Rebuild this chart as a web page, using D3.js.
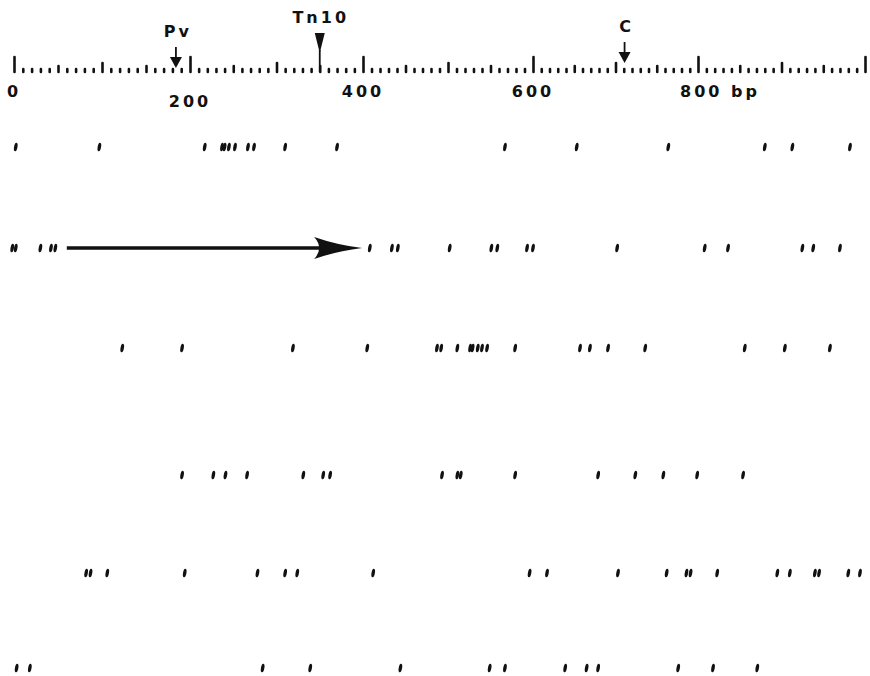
<!DOCTYPE html>
<html>
<head>
<meta charset="utf-8">
<script src="https://cdn.jsdelivr.net/npm/d3@7"></script>
<style>
  html, body { margin: 0; padding: 0; background: #ffffff; }
  svg { display: block; }
</style>
</head>
<body>
<div id="chart-container"></div>
<script>
// ruler labels (bp)
const tickValues = [0, 200, 400, 600, 800];
const tickLabels = ["0", "200", "400", "600", "800 bp"];

// sites marked above the ruler
const siteNames = ["Pv", "Tn10", "C"];
const sitePositions = [184, 350, 711];
const siteKinds = ["arrow", "wedge", "arrow"];

// one list of positions (bp) per line of marks
const row1 = [2, 97, 217, 237, 240, 245, 252, 267, 274, 310, 370, 567, 653, 764, 880, 913, 982];
const row2 = [-2, 2, 30, 42, 47, 408, 434, 441, 502, 551, 558, 593, 600, 702, 808, 836, 925, 938, 970];
const row3 = [123, 191, 319, 405, 487, 492, 511, 526, 529, 535, 540, 546, 579, 657, 669, 691, 736, 856, 904, 958];
const row4 = [191, 227, 241, 266, 331, 354, 362, 493, 511, 515, 579, 679, 724, 758, 799, 854];
const row5 = [82, 87, 106, 194, 278, 310, 324, 412, 596, 617, 703, 762, 786, 791, 823, 895, 910, 940, 945, 980, 994];
const row6 = [3, 18, 284, 339, 444, 549, 567, 639, 665, 679, 776, 818, 871];
const rows = [row1, row2, row3, row4, row5, row6];

// the long arrow on the second line (bp)
const arrowStart = 60;
const arrowEnd = 399;

const width = 870;
const height = 676;
const rowY = [147, 248, 348, 475, 573, 668]; // vertical place of each line
const rulerY = 72;
const font = "'DejaVu Sans', 'Liberation Sans', sans-serif";
const ink = "#111";

const svg = d3
  .select("#chart-container")
  .append("svg")
  .attr("width", width)
  .attr("height", height);

// the scanned ruler is not quite linear, so the scale follows its labels
const x = d3
  .scaleLinear()
  .domain([0, 200, 400, 600, 800, 1000])
  .range([14, 190, 363, 533, 698, 865]);

//#region === RULER ===
const ruler = svg
  .append("g")
  .attr("transform", `translate(0,${rulerY})`)
  .call(d3.axisTop(x).tickValues(d3.range(0, 1001, 10)).tickFormat("").tickSizeOuter(0));

ruler.select(".domain").remove();
ruler
  .selectAll(".tick line")
  .attr("stroke", ink)
  .attr("stroke-width", 2.6)
  .attr("stroke-linecap", "round")
  .attr("y2", (d) => {
    if (d % 200 === 0) return -15;
    if (d % 100 === 0) return -9;
    if (d % 50 === 0) return -6;
    return -3;
  });

// labels under the ruler (200 sits a little lower on the scan)
svg
  .selectAll("text.tick-label")
  .data(tickValues)
  .enter()
  .append("text")
  .attr("class", "tick-label")
  .attr("x", (d, i) => (i === tickLabels.length - 1 ? x(d) - 18 : x(d)))
  .attr("y", (d) => (d === 200 ? 107 : 97))
  .attr("text-anchor", (d, i) => (i === tickLabels.length - 1 ? "start" : "middle"))
  .style("font-family", font)
  .style("font-weight", "bold")
  .style("font-size", "16px")
  .style("letter-spacing", "3px")
  .style("fill", ink)
  .text((d, i) => tickLabels[i]);
//#endregion

//#region === SITES ===
siteNames.forEach((name, i) => {
  const sx = x(sitePositions[i]);
  const g = svg.append("g");
  if (siteKinds[i] === "wedge") {
    g.append("text")
      .attr("x", sx + 1)
      .attr("y", 23)
      .attr("text-anchor", "middle")
      .style("font-family", font)
      .style("font-weight", "bold")
      .style("font-size", "16px")
      .style("letter-spacing", "3px")
      .style("fill", ink)
      .text(name);
    g.append("path")
      .attr("d", `M ${sx - 5} 33 L ${sx + 5} 33 L ${sx} 53 Z`)
      .attr("fill", ink);
    g.append("line")
      .attr("x1", sx).attr("x2", sx)
      .attr("y1", 50).attr("y2", rulerY)
      .attr("stroke", ink).attr("stroke-width", 1.8);
  } else {
    const top = name === "C" ? 42 : 47;
    g.append("text")
      .attr("x", sx + 2)
      .attr("y", top - 10)
      .attr("text-anchor", "middle")
      .style("font-family", font)
      .style("font-weight", "bold")
      .style("font-size", "16px")
      .style("letter-spacing", "3px")
      .style("fill", ink)
      .text(name);
    g.append("line")
      .attr("x1", sx).attr("x2", sx)
      .attr("y1", top).attr("y2", top + 12)
      .attr("stroke", ink).attr("stroke-width", 1.8);
    g.append("path")
      .attr("d", `M ${sx - 6} ${top + 10} L ${sx + 6} ${top + 10} L ${sx} ${top + 21} Z`)
      .attr("fill", ink);
  }
});
//#endregion

//#region === MARKS ===
rows.forEach((row, r) => {
  svg
    .append("g")
    .selectAll("ellipse")
    .data(row)
    .enter()
    .append("ellipse")
    .attr("cx", (d) => x(d))
    .attr("cy", rowY[r])
    .attr("rx", 1.7)
    .attr("ry", 4.3)
    .attr("transform", (d) => `rotate(10,${x(d)},${rowY[r]})`)
    .attr("fill", ink);
});

// arrow on line 2
const ay = rowY[1];
const tipX = x(arrowEnd);
svg
  .append("line")
  .attr("x1", x(arrowStart))
  .attr("x2", tipX - 30)
  .attr("y1", ay)
  .attr("y2", ay)
  .attr("stroke", ink)
  .attr("stroke-width", 3.5);

svg
  .append("path")
  .attr(
    "d",
    `M ${tipX} ${ay} Q ${tipX - 25} ${ay - 3} ${tipX - 48} ${ay - 11}` +
      ` Q ${tipX - 38} ${ay} ${tipX - 48} ${ay + 11}` +
      ` Q ${tipX - 25} ${ay + 3} ${tipX} ${ay} Z`
  )
  .attr("fill", ink);
//#endregion
</script>
</body>
</html>
